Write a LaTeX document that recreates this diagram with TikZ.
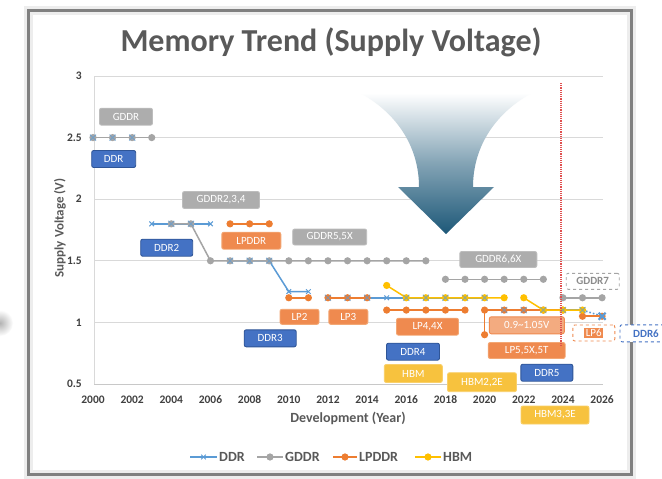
\documentclass[tikz,border=0pt]{standalone}
\usepackage{fontspec}
\setmainfont{Carlito}
\usetikzlibrary{plotmarks}
\definecolor{ddr}{HTML}{5B9BD5}
\definecolor{gddr}{HTML}{A5A5A5}
\definecolor{lp}{HTML}{ED7D31}
\definecolor{hbm}{HTML}{FFC000}
\definecolor{txt}{HTML}{595959}
\definecolor{tick}{HTML}{404040}
\definecolor{gridc}{HTML}{D9D9D9}
\definecolor{axisc}{HTML}{C8C8C8}
\definecolor{arrowblue}{HTML}{1D5878}
\definecolor{boxblue}{HTML}{4472C4}
\definecolor{boxblueD}{HTML}{2F5597}
\definecolor{boxgray}{HTML}{ADADAD}
\definecolor{boxgrayD}{HTML}{BDBDBD}
\definecolor{boxor}{HTML}{EF8A4F}
\definecolor{boxorD}{HTML}{F3A774}
\definecolor{boxyel}{HTML}{F7C23E}
\definecolor{boxyelD}{HTML}{F9D06A}
\definecolor{reddot}{HTML}{E05050}
\begin{document}
\begin{tikzpicture}[x=1pt,y=-1pt,
  lbl/.style={rounded corners=2pt, font=\fontsize{11}{12}\selectfont, text=white, inner sep=0pt, line width=0.9pt},
  bluebox/.style={lbl, fill=boxblue, draw=boxblueD},
  graybox/.style={lbl, fill=boxgray, draw=boxgrayD},
  orbox/.style={lbl, fill=boxor, draw=boxorD},
  yelbox/.style={lbl, fill=boxyel, draw=boxyelD},
  ddrs/.style={ddr, line width=1.5pt, mark=x, mark size=3.3pt, mark options={solid, line width=1pt}},
  gds/.style={gddr, line width=1.5pt, mark=*, mark size=2.8pt, mark options={solid}},
  lps/.style={lp, line width=1.5pt, mark=*, mark size=2.8pt, mark options={solid}},
  hbs/.style={hbm, line width=1.5pt, mark=*, mark size=2.8pt, mark options={solid}},
  tk/.style={font=\bfseries\fontsize{11.5}{12}\selectfont, text=tick, inner sep=1pt},
  legtxt/.style={font=\bfseries\fontsize{14}{15}\selectfont, text=txt, anchor=west, inner sep=1pt},
]
\useasboundingbox (0,0) rectangle (662,479);
\fill[white] (0,0) rectangle (662,479);
% side blob
\shade[inner color=black!30, outer color=white] (0,323) circle (13);
% frame
\draw[line width=9pt, black!7] (28,10) rectangle (631,474);
\draw[line width=3pt, black!50] (28,10) rectangle (631,474);
% title
\node[font=\bfseries\fontsize{32}{36}\selectfont, text=txt] (title) at (331,42) {Memory Trend (Supply Voltage)};
% grid
\foreach \v/\n in {3/a,2.5/b,2/c,1.5/d,1/e} {
  \draw[gridc, line width=0.9pt] ({94},{384-(\v-0.5)*123.2}) -- (603,{384-(\v-0.5)*123.2});
  \node[tk, anchor=east] (y\n) at (83,{384-(\v-0.5)*123.2}) {\v};
}
\node[tk, anchor=east] (yf) at (83,384) {0.5};
\draw[axisc, line width=1pt] (94,384) -- (603,384);
\draw[gridc, line width=0.9pt] (94,76) -- (94,384);
\foreach \yr in {2000,2002,...,2026} {
  \node[tk] (x\yr) at ({93+(\yr-2000)*19.58},400) {\yr};
}
\node[font=\bfseries\fontsize{14}{15}\selectfont, text=txt] (xlab) at (348,418) {Development (Year)};
\node[font=\bfseries\fontsize{13}{14}\selectfont, text=txt, rotate=90] (ylab) at (60,228) {Supply Voltage (V)};
% big arrow
\shade[top color=white, bottom color=arrowblue, middle color=arrowblue!55!white]
  (360,93) .. controls (395,112) and (419,145) .. (419,187) -- (398,187) -- (446,234)
  -- (494,187) -- (473,187) .. controls (473,145) and (497,112) .. (532,93) -- cycle;
% data
\begin{scope}[shift={(93,445.6)}, x=19.58pt, y=123.2pt]
  \draw[ddrs] plot coordinates {(0,2.5) (1,2.5) (2,2.5)};
  \draw[ddrs] plot coordinates {(3,1.8) (4,1.8) (5,1.8) (6,1.8)};
  \draw[ddrs] plot coordinates {(7,1.5) (8,1.5) (9,1.5) (10,1.25) (11,1.25)};
  \draw[ddrs] plot coordinates {(12,1.2) (13,1.2) (14,1.2) (15,1.2) (16,1.2) (17,1.2) (18,1.2) (19,1.2) (20,1.2)};
  \draw[ddrs] plot coordinates {(21,1.1) (22,1.1) (23,1.1) (24,1.1) (25,1.1)};
  \draw[ddr, line width=1.6pt, dotted] (25,1.1) -- (26,1.05);
  % GDDR
  \draw[gds] plot coordinates {(0,2.5) (1,2.5) (2,2.5) (3,2.5)};
  \draw[gds] plot coordinates {(4,1.8) (5,1.8) (6,1.5) (7,1.5) (8,1.5) (9,1.5) (10,1.5) (11,1.5) (12,1.5) (13,1.5) (14,1.5) (15,1.5) (16,1.5) (17,1.5)};
  \draw[gds] plot coordinates {(18,1.35) (19,1.35) (20,1.35) (21,1.35) (22,1.35) (23,1.35)};
  \draw[gds] plot coordinates {(24,1.2) (25,1.2) (26,1.2)};
  % LPDDR
  \draw[lps] plot coordinates {(7,1.8) (8,1.8) (9,1.8)};
  \draw[lps] plot coordinates {(10,1.2) (11,1.2)};
  \draw[lps] plot coordinates {(12,1.2) (13,1.2) (14,1.2)};
  \draw[lps] plot coordinates {(15,1.1) (16,1.1) (17,1.1) (18,1.1) (19,1.1)};
  \draw[lps] plot coordinates {(20,0.9) (20,1.1) (21,1.1) (22,1.1) (23,1.1) (24,1.1)};
  \draw[lps] plot coordinates {(25,1.05) (26,1.05)};
  % HBM
  \draw[hbs] plot coordinates {(15,1.3) (16,1.2) (17,1.2) (18,1.2) (19,1.2) (20,1.2) (21,1.2)};
  \draw[hbs] plot coordinates {(22,1.2) (23,1.1) (24,1.1) (25,1.1)};
  % DDR marks on top
  \foreach \a/\b in {0/2.5,1/2.5,2/2.5,4/1.8,5/1.8,7/1.5,8/1.5,9/1.5,12/1.2,13/1.2,14/1.2,16/1.2,17/1.2,18/1.2,19/1.2,20/1.2,21/1.1,22/1.1,23/1.1,24/1.1,25/1.1} {
    \draw[ddr, line width=1pt, opacity=0.65] (\a,\b) ++(-3pt,-3pt) -- ++(6pt,6pt) ++(-6pt,0pt) -- ++(6pt,-6pt);
  }
  \draw[ddr, line width=2.2pt] (26,1.05) ++(-3.5pt,-3.5pt) -- ++(7pt,7pt) ++(-7pt,0pt) -- ++(7pt,-7pt);
\end{scope}
% labels
\node[graybox, minimum width=53pt, minimum height=17pt] (lgddr) at (126,116.7) {GDDR};
\node[bluebox, minimum width=44pt, minimum height=17pt] (lddr) at (113.7,159) {DDR};
\node[graybox, minimum width=77pt, minimum height=17pt] (lgddr2) at (221,200) {GDDR2,3,4};
\node[bluebox, minimum width=52pt, minimum height=17pt] (lddr2) at (166.7,247.7) {DDR2};
\node[orbox, minimum width=59pt, minimum height=17pt] (llpddr) at (251.3,240.7) {LPDDR};
\node[graybox, minimum width=74pt, minimum height=16pt] (lgddr5) at (329.7,237) {GDDR5,5X};
\node[orbox, minimum width=39pt, minimum height=15pt] (llp2) at (299.5,316.8) {LP2};
\node[orbox, minimum width=39pt, minimum height=15pt] (llp3) at (348.3,316.8) {LP3};
\node[bluebox, minimum width=52pt, minimum height=17pt] (lddr3) at (270.2,338.3) {DDR3};
\node[orbox, minimum width=62pt, minimum height=17pt] (llp4) at (427.5,326.7) {LP4,4X};
\node[bluebox, minimum width=53pt, minimum height=17pt] (lddr4) at (413,351.7) {DDR4};
\node[yelbox, minimum width=58pt, minimum height=18pt] (lhbm) at (413.3,373.5) {HBM};
\node[yelbox, minimum width=69pt, minimum height=19pt] (lhbm2) at (482,382.2) {HBM2,2E};
\node[graybox, minimum width=77pt, minimum height=16pt] (lgddr6) at (498.3,259.5) {GDDR6,6X};
\node[lbl, fill=boxor!72!white, draw=boxor, minimum width=75pt, minimum height=17pt] (lvolt) at (526.8,325.3) {0.9\textasciitilde1.05V};
\node[orbox, minimum width=77pt, minimum height=16pt] (llp5) at (526.7,350.5) {LP5,5X,5T};
\node[bluebox, minimum width=52pt, minimum height=17pt] (lddr5) at (546.8,372.7) {DDR5};
\node[yelbox, minimum width=68pt, minimum height=18pt] (lhbm3) at (555,415) {HBM3,3E};
\node[lbl, fill=white, draw=gddr, dashed, text=gddr!85!black, minimum width=53pt, minimum height=16pt] (lgddr7) at (592.7,281.3) {\bfseries GDDR7};
\node[lbl, fill=white, draw=boxor, dashed, minimum width=42pt, minimum height=16pt] (llp6) at (593.8,333) {};
\node[fill=boxor, text=white, font=\fontsize{11}{12}\selectfont, inner xsep=1.5pt, inner ysep=1pt] (llp6t) at (llp6) {LP6};
\node[lbl, fill=white, draw=boxblue, dashed, text=boxblue, minimum width=52pt, minimum height=17pt] (lddr6) at (646,333.3) {\bfseries DDR6};
% red dotted line
\coordinate (rtop) at (561,83);
\coordinate (rbot) at (561,345);
\draw[reddot, line width=1.2pt, densely dotted] (rtop) -- (rbot);
% legend
\draw[ddrs, mark indices={2}] plot coordinates {(190,457) (203.5,457) (217,457)};
\node[legtxt] (leg1) at (218,457) {DDR};
\draw[gds, mark indices={2}] plot coordinates {(257,457) (270,457) (283,457)};
\node[legtxt] (leg2) at (284,457) {GDDR};
\draw[lps, mark indices={2}] plot coordinates {(333,457) (345,457) (357,457)};
\node[legtxt] (leg3) at (358,457) {LPDDR};
\draw[hbs, mark indices={2}] plot coordinates {(415,457) (428,457) (441,457)};
\node[legtxt] (leg4) at (442,457) {HBM};
\end{tikzpicture}
\end{document}
